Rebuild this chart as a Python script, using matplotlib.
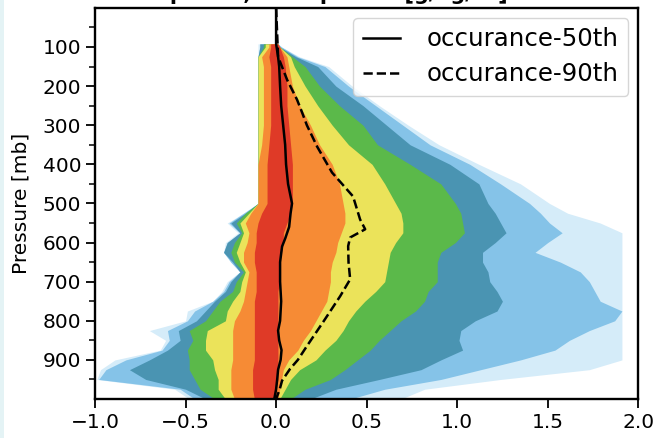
import matplotlib
matplotlib.use("Agg")
import matplotlib.pyplot as plt
from matplotlib.patches import Rectangle

# Pressure levels (mb) at which the occurrence-band edges are given
pressure = [92, 100, 125, 150, 200, 250, 300, 350, 400, 450, 500, 525, 550, 575, 600,
            625, 650, 675, 700, 725, 750, 775, 800, 825, 850, 875, 900, 925, 950, 975, 1000]

# Left / right edges of each filled occurrence band, outermost (1) to innermost (7)
band1_left = [-0.10, -0.10, -0.10, -0.10, -0.10, -0.10, -0.10, -0.10, -0.10, -0.10, -0.10,
              -0.18, -0.27, -0.21, -0.28, -0.29, -0.25, -0.20, -0.27, -0.30, -0.35, -0.49,
              -0.50, -0.70, -0.61, -0.64, -0.89, -0.97, -0.99, -0.56, -0.48]
band2_left = [-0.09, -0.09, -0.10, -0.10, -0.10, -0.10, -0.10, -0.10, -0.10, -0.10, -0.10,
              -0.18, -0.26, -0.20, -0.27, -0.29, -0.25, -0.20, -0.26, -0.29, -0.35, -0.45,
              -0.49, -0.60, -0.59, -0.63, -0.83, -0.94, -0.98, -0.53, -0.45]
band3_left = [-0.09, -0.09, -0.10, -0.10, -0.10, -0.10, -0.10, -0.10, -0.10, -0.10, -0.10,
              -0.17, -0.25, -0.20, -0.27, -0.29, -0.24, -0.20, -0.25, -0.28, -0.34, -0.39,
              -0.44, -0.54, -0.53, -0.60, -0.70, -0.81, -0.72, -0.50, -0.39]
band4_left = [-0.07, -0.07, -0.10, -0.10, -0.10, -0.10, -0.10, -0.10, -0.10, -0.10, -0.10,
              -0.17, -0.22, -0.19, -0.23, -0.25, -0.23, -0.18, -0.22, -0.24, -0.31, -0.35,
              -0.39, -0.48, -0.46, -0.49, -0.48, -0.48, -0.45, -0.42, -0.34]
band5_left = [-0.06, -0.06, -0.10, -0.10, -0.10, -0.10, -0.10, -0.10, -0.10, -0.10, -0.10,
              -0.15, -0.20, -0.18, -0.20, -0.22, -0.20, -0.17, -0.19, -0.20, -0.24, -0.27,
              -0.28, -0.38, -0.39, -0.39, -0.35, -0.34, -0.32, -0.32, -0.28]
band6_left = [-0.04, -0.04, -0.08, -0.07, -0.07, -0.07, -0.07, -0.08, -0.10, -0.10, -0.10,
              -0.14, -0.17, -0.15, -0.16, -0.18, -0.18, -0.15, -0.16, -0.17, -0.18, -0.20,
              -0.23, -0.24, -0.24, -0.24, -0.24, -0.25, -0.25, -0.25, -0.23]
band7_left = [-0.03, -0.03, -0.04, -0.03, -0.03, -0.03, -0.03, -0.04, -0.05, -0.05, -0.05,
              -0.08, -0.10, -0.11, -0.11, -0.12, -0.12, -0.11, -0.11, -0.11, -0.12, -0.12,
              -0.12, -0.12, -0.12, -0.12, -0.12, -0.13, -0.13, -0.13, -0.12]

band1_right = [0.01, 0.03, 0.13, 0.29, 0.42, 0.57, 0.73, 0.90, 1.12, 1.35, 1.51, 1.61, 1.79,
               1.91, 1.91, 1.91, 1.91, 1.91, 1.91, 1.91, 1.91, 1.91, 1.91, 1.91, 1.91, 1.91,
               1.91, 1.73, 1.24, 0.82, 0.69]
band2_right = [0.01, 0.03, 0.12, 0.27, 0.40, 0.55, 0.70, 0.85, 1.07, 1.24, 1.40, 1.46, 1.51,
               1.58, 1.50, 1.43, 1.57, 1.68, 1.73, 1.76, 1.79, 1.91, 1.87, 1.73, 1.62, 1.54,
               1.35, 1.13, 0.91, 0.60, 0.41]
band3_right = [0.01, 0.02, 0.11, 0.23, 0.33, 0.48, 0.61, 0.74, 0.96, 1.12, 1.17, 1.21, 1.24,
               1.27, 1.21, 1.14, 1.14, 1.17, 1.18, 1.22, 1.25, 1.22, 1.10, 1.02, 1.01, 1.03,
               0.91, 0.80, 0.57, 0.33, 0.19]
band4_right = [0.01, 0.02, 0.09, 0.16, 0.24, 0.35, 0.48, 0.56, 0.74, 0.91, 0.99, 1.02, 1.03,
               1.04, 0.99, 0.91, 0.89, 0.89, 0.89, 0.84, 0.82, 0.77, 0.69, 0.63, 0.57, 0.52,
               0.45, 0.38, 0.30, 0.16, 0.08]
band5_right = [0.01, 0.02, 0.08, 0.10, 0.16, 0.23, 0.31, 0.40, 0.53, 0.60, 0.66, 0.69, 0.70,
               0.70, 0.66, 0.63, 0.62, 0.61, 0.60, 0.55, 0.49, 0.44, 0.40, 0.37, 0.33, 0.27,
               0.22, 0.13, 0.08, 0.05, 0.02]
band6_right = [0.01, 0.02, 0.06, 0.07, 0.09, 0.13, 0.19, 0.24, 0.31, 0.35, 0.37, 0.38, 0.38,
               0.36, 0.34, 0.33, 0.31, 0.30, 0.30, 0.29, 0.28, 0.25, 0.22, 0.19, 0.15, 0.12,
               0.07, 0.04, 0.03, 0.02, 0.01]
band7_right = [0.01, 0.02, 0.04, 0.05, 0.06, 0.06, 0.07, 0.08, 0.09, 0.09, 0.09, 0.08, 0.06,
               0.04, 0.04, 0.03, 0.02, 0.02, 0.02, 0.01, 0.01, 0.01, 0.01, 0.01, 0.01, 0.01,
               0.01, 0.01, 0.01, 0.00, 0.00]

band_colors = ["#d5ecf9", "#85c3e8", "#4a94b2", "#5bb94a", "#ebe35a", "#f68b35", "#df3a27"]

# Percentile profiles
p50_pressure = [0, 92, 125, 150, 200, 250, 300, 350, 400, 450, 500, 525, 560, 590, 610, 650,
                700, 750, 800, 825, 850, 875, 900, 925, 950, 975, 1000]
p50_value = [0.0, 0.0, 0.011, 0.017, 0.022, 0.028, 0.039, 0.05, 0.055, 0.066, 0.088, 0.08,
             0.072, 0.05, 0.033, 0.022, 0.022, 0.028, 0.022, 0.011, 0.017, 0.03, 0.025, 0.011,
             0.006, 0.0, -0.01]
p90_pressure = [0, 125, 184, 235, 268, 300, 355, 421, 482, 541, 566, 587, 609, 650, 694, 737,
                803, 864, 900, 923, 953, 975, 1000]
p90_value = [0.0, 0.011, 0.061, 0.116, 0.144, 0.17, 0.227, 0.309, 0.425, 0.464, 0.492, 0.409,
             0.398, 0.40, 0.409, 0.354, 0.26, 0.171, 0.12, 0.077, 0.033, 0.02, 0.0]

x_ticks = [-1.0, -0.5, 0.0, 0.5, 1.0, 1.5, 2.0]
y_ticks = [100, 200, 300, 400, 500, 600, 700, 800, 900]
y_minor = [50, 150, 250, 350, 450, 550, 650, 750, 850, 950]

lefts = [band1_left, band2_left, band3_left, band4_left, band5_left, band6_left, band7_left]
rights = [band1_right, band2_right, band3_right, band4_right, band5_right, band6_right, band7_right]

fig = plt.figure(figsize=(6.6, 4.38), dpi=100)
fig.patches.append(Rectangle((0, 0), 4 / 660, 1, transform=fig.transFigure,
                             facecolor="#e4f3f5", edgecolor="none", zorder=-1))
ax = fig.add_axes([0.144, 0.089, 0.823, 0.893])

for lo, hi, col in zip(lefts, rights, band_colors):
    ax.fill_betweenx(pressure, lo, hi, color=col, linewidth=0)

ax.plot(p50_value, p50_pressure, color="black", lw=1.8, label="occurance-50th")
ax.plot(p90_value, p90_pressure, color="black", lw=1.8, ls="--", label="occurance-90th")

ax.set_xlim(-1.0, 2.0)
ax.set_ylim(1000, 0)
ax.set_xticks(x_ticks)
ax.set_yticks(y_ticks)
ax.set_yticks(y_minor, minor=True)
ax.tick_params(axis="both", which="major", labelsize=14.5, length=6.5, width=1.3)
ax.tick_params(axis="y", which="minor", length=4.3, width=1.1)
for s in ax.spines.values():
    s.set_linewidth(1.7)
ax.set_ylabel("Pressure [mb]", fontsize=14.5)
ax.yaxis.set_label_coords(-0.118, 0.5)

ax.legend(loc="upper right", fontsize=17.6, handlelength=1.5, handletextpad=1.1,
          borderaxespad=0.4, labelspacing=0.45)

fig.text(0.5, 1.0, "Updraft, Rate profile [g/kg/hr]", ha="center", va="baseline",
         fontsize=15, fontweight="bold")

fig.savefig("out.png", dpi=100)
